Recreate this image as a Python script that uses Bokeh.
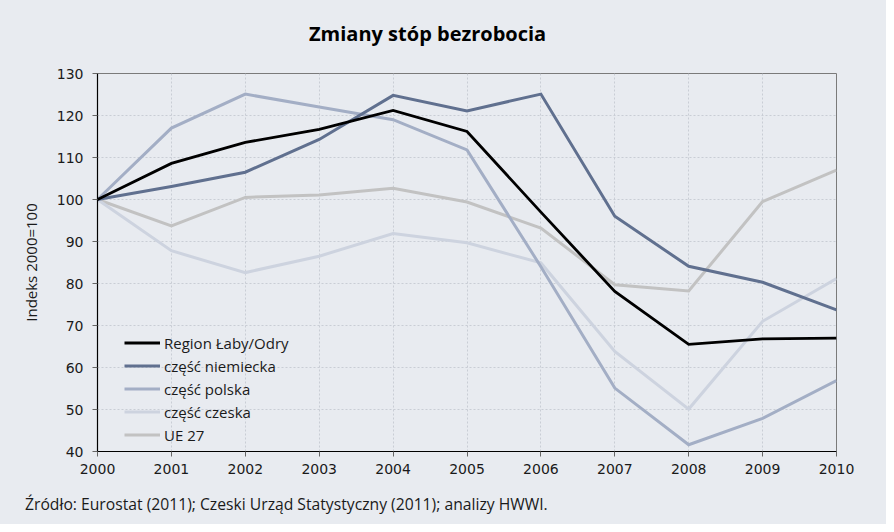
from bokeh.plotting import figure
from bokeh.models import Range1d, FixedTicker, Legend, LegendItem, Div
from bokeh.layouts import column
from bokeh.embed import file_html
from bokeh.resources import INLINE

years = [2000, 2001, 2002, 2003, 2004, 2005, 2006, 2007, 2008, 2009, 2010]
region = [100, 108.6, 113.6, 116.7, 121.2, 116.2, 97.0, 78.1, 65.5, 66.8, 67.0]
niemiecka = [100, 103.1, 106.5, 114.3, 124.8, 121.1, 125.1, 96.0, 84.1, 80.3, 73.7]
polska = [100, 117.0, 125.1, 122.0, 119.0, 111.8, 84.0, 55.1, 41.6, 47.9, 56.9]
czeska = [100, 87.8, 82.6, 86.5, 91.9, 89.7, 84.9, 63.8, 50.1, 71.0, 81.2]
ue27 = [100, 93.7, 100.5, 101.1, 102.7, 99.4, 93.2, 79.7, 78.2, 99.5, 107.0]

series_names = ["Region Łaby/Odry", "część niemiecka", "część polska", "część czeska", "UE 27"]
series_values = [region, niemiecka, polska, czeska, ue27]
series_colors = ["#000000", "#60708F", "#A3AEC5", "#CDD3DF", "#C2C2C2"]
series_widths = [2.8, 3, 3, 3, 3]

y_ticks = [40, 50, 60, 70, 80, 90, 100, 110, 120, 130]
x_ticks = years

title_text = "Zmiany stóp bezrobocia"
footer_text = "Źródło: Eurostat (2011); Czeski Urząd Statystyczny (2011); analizy HWWI."

BG = "#E8EBF0"
W = 886
TITLE_H = 60
FOOT_H = 40
FIG_H = 524 - TITLE_H - FOOT_H

title_div = Div(text=title_text, width=W, height=TITLE_H, margin=0,
                styles={"background-color": BG, "font-family": "Open Sans",
                        "font-weight": "bold", "font-size": "20px", "color": "#000000",
                        "line-height": "26px", "padding-top": "21px", "padding-left": "309px",
                        "box-sizing": "border-box"})

p = figure(width=W, height=FIG_H, output_backend="svg", toolbar_location=None,
           x_range=Range1d(2000, 2010), y_range=Range1d(40, 130),
           min_border_left=97, min_border_right=50, min_border_top=73 - TITLE_H,
           min_border_bottom=FIG_H - (451 - TITLE_H), margin=0)
p.background_fill_color = BG
p.border_fill_color = BG
p.outline_line_color = "#7A7A7A"
p.outline_line_width = 1

for ax in (p.xaxis, p.yaxis):
    ax.axis_line_color = "#000000"
    ax.axis_line_width = 1.2
    ax.major_tick_line_color = "#666666"
    ax.major_tick_out = 5
    ax.major_tick_in = 0
    ax.minor_tick_line_color = None
    ax.major_label_text_font = "DejaVu Sans"
    ax.major_label_text_font_size = "14px"
    ax.major_label_text_color = "#1A1A1A"
p.xaxis.ticker = FixedTicker(ticks=x_ticks)
p.yaxis.ticker = FixedTicker(ticks=y_ticks)
p.xaxis.major_label_standoff = 7
p.yaxis.major_label_standoff = 9
p.yaxis.axis_label = "Indeks 2000=100"
p.yaxis.axis_label_text_font = "Open Sans"
p.yaxis.axis_label_text_font_style = "normal"
p.yaxis.axis_label_text_font_size = "15px"
p.yaxis.axis_label_text_color = "#1A1A1A"
p.yaxis.axis_label_standoff = 13

p.xgrid.ticker = FixedTicker(ticks=x_ticks)
p.ygrid.ticker = FixedTicker(ticks=y_ticks)
for g in (p.xgrid, p.ygrid):
    g.grid_line_color = "#C9CDD5"
    g.grid_line_dash = "2 2"
    g.grid_line_width = 1

order = [4, 3, 2, 1, 0]
renderers = {}
for i in order:
    r = p.line(years, series_values[i], line_color=series_colors[i],
               line_width=series_widths[i], line_join="miter")
    renderers[i] = r

legend = Legend(items=[LegendItem(label=series_names[i], renderers=[renderers[i]]) for i in range(5)],
                location=(27, 5), background_fill_alpha=0, border_line_color=None,
                padding=0, margin=0, spacing=0, glyph_width=36, glyph_height=23,
                label_height=23, label_standoff=4,
                label_text_font="Open Sans", label_text_font_size="15px",
                label_text_color="#1A1A1A")
p.add_layout(legend)

footer_div = Div(text=footer_text, width=W, height=FOOT_H, margin=0,
                 styles={"background-color": BG, "font-family": "Open Sans",
                         "font-size": "15.7px", "color": "#1A1A1A",
                         "line-height": "22px", "padding-top": "9px", "padding-left": "25px",
                         "box-sizing": "border-box"})

layout = column(title_div, p, footer_div, spacing=0, margin=0,
                styles={"background-color": BG})

open("out.html", "w").write(file_html(layout, INLINE))
